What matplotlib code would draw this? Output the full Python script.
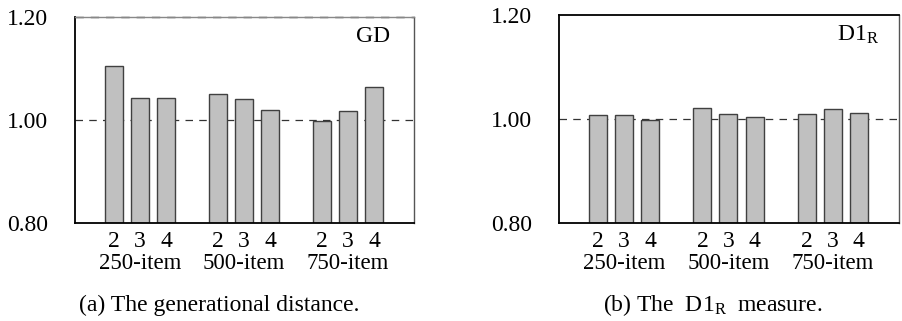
import matplotlib
matplotlib.use("Agg")
import matplotlib.pyplot as plt
import numpy as np

plt.rcParams['font.family'] = ['Liberation Serif', 'DejaVu Serif']
plt.rcParams['mathtext.fontset'] = 'custom'
plt.rcParams['mathtext.rm'] = 'Liberation Serif'
plt.rcParams['mathtext.it'] = 'Liberation Serif'

groups = ['250-item', '500-item', '750-item']
objectives = ['2', '3', '4']
gd_vals = [1.104, 1.043, 1.043, 1.051, 1.041, 1.019, 0.998, 1.017, 1.064]
d1r_vals = [1.007, 1.007, 0.999, 1.022, 1.009, 1.003, 1.009, 1.019, 1.011]
yticks = [0.80, 1.00, 1.20]

# bar positions: 3 bars per group, groups 4 units apart
pos = np.array([1.5 + 4 * g + k for g in range(3) for k in range(3)])


def draw_panel(ax, vals, tag, dashed_top):
    ax.axhline(1.0, color='#333333', lw=0.9, ls=(0, (6, 5)), zorder=1)
    heights = [v - 0.8 for v in vals]
    ax.bar(pos, heights, width=0.69, bottom=0.8, color='#c0c0c0',
           edgecolor='#404040', linewidth=1.0, zorder=2)
    ax.set_ylim(0.8, 1.2)
    ax.set_xlim(0, 13.04)
    ax.set_yticks(yticks, ['%.2f' % v for v in yticks])
    ax.set_xticks(pos, objectives * 3)
    ax.tick_params(axis='y', length=0, pad=19.5, labelsize=17)
    ax.tick_params(axis='x', length=0, pad=6, labelsize=17)
    for s in ['left', 'bottom']:
        ax.spines[s].set_color('black')
        ax.spines[s].set_linewidth(1.3)
    ax.spines['right'].set_color('#555555')
    ax.spines['right'].set_linewidth(1.0)
    if dashed_top:
        ax.spines['top'].set_color('#888888')
        ax.spines['top'].set_linewidth(1.0)
        ax.axhline(1.2, color='#333333', lw=1.0, ls=(0, (6, 5)), clip_on=False)
    else:
        ax.spines['top'].set_color('black')
        ax.spines['top'].set_linewidth(1.3)
    for g, name in enumerate(groups):
        ax.text(pos[3 * g + 1], -0.195, name, transform=ax.get_xaxis_transform(),
                ha='center', va='center', fontsize=16.5)
    ax.text(0.879, 0.905, tag, transform=ax.transAxes, ha='center', va='center',
            fontsize=17)


fig = plt.figure(figsize=(9.02, 3.21), dpi=100)
ax1 = fig.add_axes([75 / 902, 98 / 321, 339 / 902, 206 / 321])
ax2 = fig.add_axes([559 / 902, 98 / 321, 340 / 902, 208 / 321])

draw_panel(ax1, gd_vals, 'GD', True)
draw_panel(ax2, d1r_vals, r'D1$_\mathrm{R}$', False)

fig.text(219.5 / 902, 1 - 305 / 321, '(a) The generational distance.',
         ha='center', va='center', fontsize=17)
fig.text(712.7 / 902, 1 - 305 / 321, r'(b) The  D1$_\mathrm{R}$  measure.',
         ha='center', va='center', fontsize=17)

fig.savefig('out.png', dpi=100)
